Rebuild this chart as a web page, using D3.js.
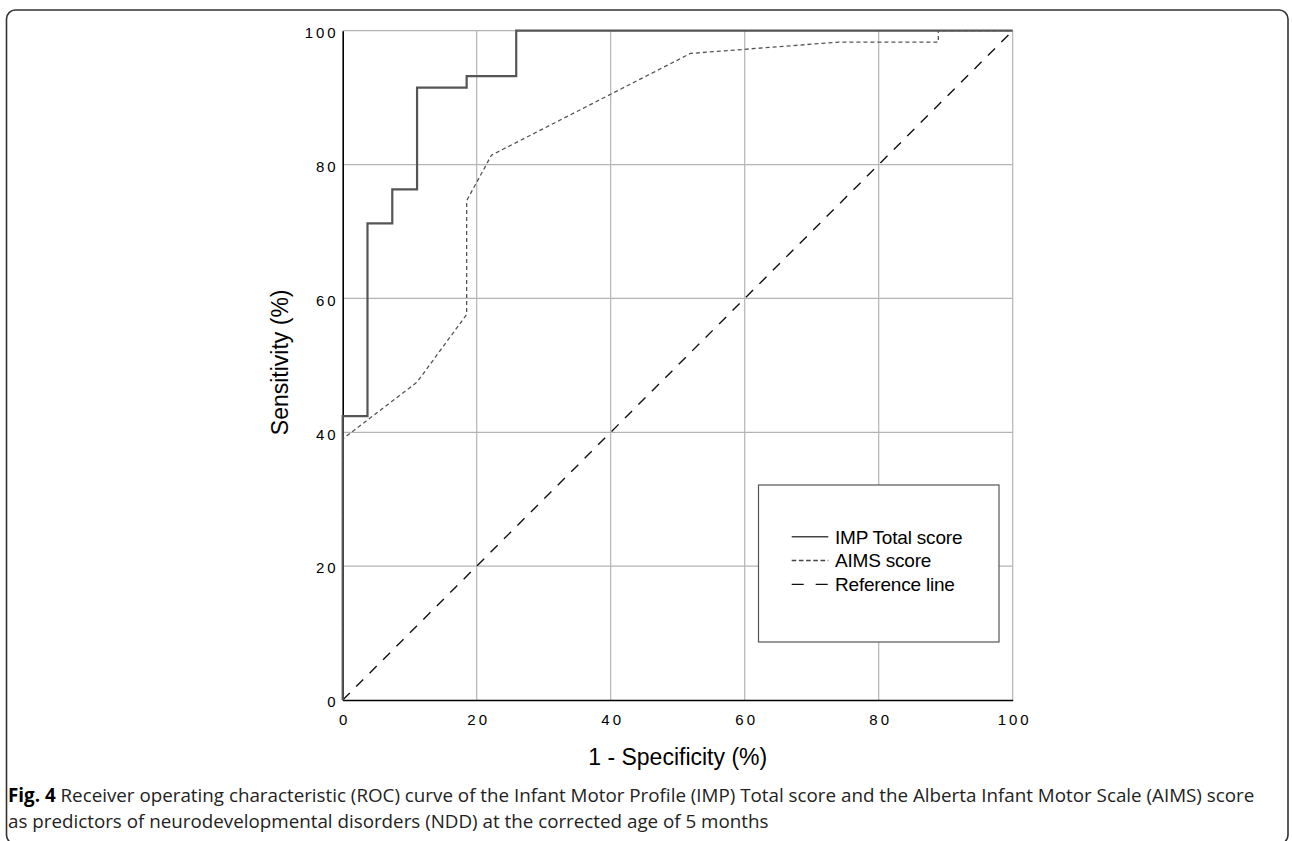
<!DOCTYPE html>
<html>
<head>
<meta charset="utf-8">
<script src="https://cdn.jsdelivr.net/npm/d3@7"></script>
<style>
  body { margin: 0; background: #fff; }
  svg { display: block; }
</style>
</head>
<body>
<script>
// ROC points, [1 - specificity, sensitivity] in %
var impPoints = [[0, 0], [0, 42.4], [3.7, 42.4], [3.7, 71.2], [7.4, 71.2], [7.4, 76.3],
  [11.1, 76.3], [11.1, 91.5], [18.5, 91.5], [18.5, 93.2], [25.9, 93.2], [25.9, 100], [100, 100]];
var aimsPoints = [[0, 0], [0, 39.0], [11.1, 47.5], [18.5, 57.6], [18.5, 74.6], [22.2, 81.4],
  [51.9, 96.6], [74.1, 98.3], [88.9, 98.3], [88.9, 100], [100, 100]];
var refPoints = [[0, 0], [100, 100]];

var xTicks = [0, 20, 40, 60, 80, 100];
var yTicks = [0, 20, 40, 60, 80, 100];
var legendLabels = ["IMP Total score", "AIMS score", "Reference line"];
var captionBold = "Fig. 4";
var captionLine1 = " Receiver operating characteristic (ROC) curve of the Infant Motor Profile (IMP) Total score and the Alberta Infant Motor Scale (AIMS) score";
var captionLine2 = "as predictors of neurodevelopmental disorders (NDD) at the corrected age of 5 months";

var W = 1292, H = 841;
var margin = {top: 30.7, left: 342.7},
    width = 670,
    height = 669.3;

var svg = d3.select("body").append("svg")
  .attr("width", W)
  .attr("height", H);

// outer frame
svg.append("rect")
  .attr("x", 6.5).attr("y", 10)
  .attr("width", 1281.5).attr("height", 834)
  .attr("rx", 9)
  .attr("fill", "none")
  .attr("stroke", "#333")
  .attr("stroke-width", 1.6);

var x = d3.scaleLinear().domain([0, 100]).range([0, width]);
var y = d3.scaleLinear().domain([0, 100]).range([height, 0]);

var main = svg.append("g")
  .attr("transform", "translate(" + margin.left + "," + margin.top + ")");

// grid
main.append("g")
  .selectAll("line.gx")
  .data(xTicks.slice(1))
  .enter().append("line")
    .attr("x1", function(d) { return x(d); })
    .attr("x2", function(d) { return x(d); })
    .attr("y1", 0).attr("y2", height)
    .attr("stroke", "#b4b4b4").attr("stroke-width", 1.2);

main.append("g")
  .selectAll("line.gy")
  .data(yTicks.slice(1))
  .enter().append("line")
    .attr("y1", function(d) { return y(d); })
    .attr("y2", function(d) { return y(d); })
    .attr("x1", 0).attr("x2", width)
    .attr("stroke", "#b4b4b4").attr("stroke-width", 1.2);

// axes
var xAxis = d3.axisBottom(x).tickValues(xTicks).tickSize(0).tickPadding(14);
var yAxis = d3.axisLeft(y).tickValues(yTicks).tickSize(0).tickPadding(7);

var gx = main.append("g")
  .attr("transform", "translate(0," + height + ")")
  .call(xAxis);
var gy = main.append("g").call(yAxis);

[gx, gy].forEach(function(g) {
  g.select(".domain").attr("stroke", "#000").attr("stroke-width", 1.6);
  g.selectAll("text")
    .attr("fill", "#000")
    .style("font-family", "'Liberation Sans', Arial, sans-serif")
    .style("font-size", "15px")
    .style("letter-spacing", "3px");
});
gx.selectAll("text").attr("dx", "1.5px");
gy.selectAll("text").attr("dy", "0.45em").attr("dx", "3px");

// axis titles
main.append("text")
  .attr("text-anchor", "middle")
  .attr("transform", "translate(" + (-55) + "," + (height / 2 - 3) + ")rotate(-90)")
  .style("font-family", "'Liberation Sans', Arial, sans-serif")
  .style("font-size", "23px")
  .text("Sensitivity (%)");

main.append("text")
  .attr("text-anchor", "middle")
  .attr("x", width / 2)
  .attr("y", height + 65)
  .style("font-family", "'Liberation Sans', Arial, sans-serif")
  .style("font-size", "23px")
  .text("1 - Specificity (%)");

// curves
var line = d3.line()
  .x(function(d) { return x(d[0]); })
  .y(function(d) { return y(d[1]); });

main.append("path")
  .datum(refPoints)
  .attr("d", line)
  .attr("fill", "none")
  .attr("stroke", "#111")
  .attr("stroke-width", 1.4)
  .attr("stroke-dasharray", "10,9");

main.append("path")
  .datum(aimsPoints)
  .attr("d", line)
  .attr("fill", "none")
  .attr("stroke", "#555")
  .attr("stroke-width", 1.3)
  .attr("stroke-dasharray", "4,3");

main.append("path")
  .datum(impPoints)
  .attr("d", line)
  .attr("fill", "none")
  .attr("stroke", "#555")
  .attr("stroke-width", 2.2);

// legend
var legend = svg.append("g").attr("transform", "translate(758.5,485)");
legend.append("rect")
  .attr("width", 240.5).attr("height", 157)
  .attr("fill", "#fff")
  .attr("stroke", "#555").attr("stroke-width", 1.2);

var dashes = [null, "4.6,2.6", "12,12"];
var rows = legend.selectAll(".legend")
  .data(legendLabels)
  .enter().append("g")
    .attr("class", "legend")
    .attr("transform", function(d, i) { return "translate(0," + (51.7 + i * 23.8) + ")"; });

rows.append("line")
  .attr("x1", 33.2).attr("x2", 69.8)
  .attr("stroke", function(d, i) { return i == 2 ? "#111" : "#444"; })
  .attr("stroke-width", function(d, i) { return i == 0 ? 1.6 : 1.3; })
  .attr("stroke-dasharray", function(d, i) { return dashes[i]; });

rows.append("text")
  .attr("x", 76.5)
  .attr("dy", "0.36em")
  .style("font-family", "'Liberation Sans', Arial, sans-serif")
  .style("font-size", "19px")
  .style("letter-spacing", "-0.2px")
  .text(function(d) { return d; });

// caption
var cap = svg.append("g")
  .style("font-family", "'Open Sans', 'Noto Sans', sans-serif")
  .style("fill", "#222");

var t1 = cap.append("text").attr("x", 8).attr("y", 802).style("font-size", "17px");
t1.append("tspan").style("font-weight", "bold").attr("fill", "#000").text(captionBold);
t1.append("tspan").text(captionLine1);
var t2 = cap.append("text").attr("x", 8).attr("y", 828).style("font-size", "17px").text(captionLine2);

// fit caption size to the figure width
var len = t1.node().getComputedTextLength();
var fs = 17 * 1247 / len;
t1.style("font-size", fs + "px");
t2.style("font-size", fs + "px");
</script>
</body>
</html>
